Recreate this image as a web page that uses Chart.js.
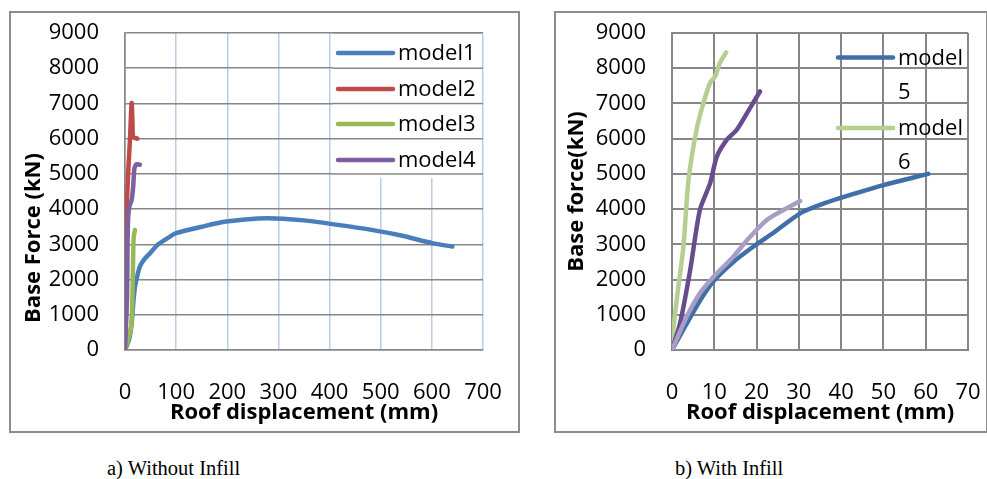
<!DOCTYPE html>
<html>
<head>
<meta charset="utf-8">
<script src="https://cdn.jsdelivr.net/npm/chart.js@4.4.1/dist/chart.umd.min.js"></script>
<style>
  body { margin: 0; background: #fff; width: 987px; height: 479px; overflow: hidden; position: relative; }
  .box { position: absolute; border: 2px solid #8c8c8c; box-sizing: border-box; }
  .box canvas { display: block; }
  .cap { position: absolute; top: 457px; font: 20.5px "Liberation Serif", "Times New Roman", serif; color: #000; white-space: nowrap; }
</style>
</head>
<body>
<div class="box" style="left:9px;top:11px;width:511px;height:422px"><canvas id="left" width="507" height="418"></canvas></div>
<div class="box" style="left:554px;top:11px;width:434px;height:422px"><canvas id="right" width="430" height="418"></canvas></div>
<div class="cap" style="left:107px">a) Without Infill</div>
<div class="cap" style="left:675px">b) With Infill</div>
<script>
// ---- a) without infill ----
const m1Disp  = [0, 8, 13, 16, 19.5, 24, 29, 38, 49, 65, 88, 100, 150, 198, 277, 350, 416, 482, 540, 601, 640];
const m1Force = [0, 300, 760, 1300, 1800, 2100, 2370, 2580, 2750, 3000, 3220, 3317, 3500, 3648, 3743, 3680, 3553, 3411, 3250, 3033, 2937];
const m2Disp  = [0, 1, 2, 4, 6.5, 10, 13, 14.5, 16, 24];
const m2Force = [0, 2000, 3500, 4300, 5117, 6063, 7012, 6500, 6050, 6000];
const m3Disp  = [0, 10, 13, 15, 16, 17, 19.5];
const m3Force = [0, 500, 850, 1800, 2700, 3200, 3410];
const m4Disp  = [0, 4, 5, 6, 8.5, 13, 16, 18, 19.5, 22, 29];
const m4Force = [0, 1500, 3000, 3700, 4070, 4260, 4640, 5117, 5210, 5270, 5260];

// ---- b) with infill ----
const m5Disp  = [0, 3, 6.6, 9.8, 14.5, 19.2, 24, 30.3, 35, 39.7, 50, 60.6];
const m5Force = [0, 650, 1400, 1950, 2500, 2930, 3330, 3880, 4120, 4310, 4680, 5000];
const m6Disp  = [0, 0.3, 1.5, 2.7, 3.9, 5.8, 7.4, 9, 10.2, 11.3, 12.8];
const m6Force = [0, 570, 1800, 2930, 4830, 6250, 7000, 7580, 7770, 8140, 8450];
const m7Disp  = [0, 1.9, 4.3, 6.6, 9, 10.6, 12.9, 15.3, 17.7, 20.8];
const m7Force = [0, 760, 2270, 3980, 4730, 5490, 5960, 6250, 6720, 7340];
const m8Disp  = [0, 3.5, 6.6, 10, 14.5, 18, 22.4, 26, 30.3];
const m8Force = [0, 950, 1610, 2100, 2650, 3150, 3690, 3950, 4230];

const leftXTicks = [0, 100, 200, 300, 400, 500, 600, 700];
const rightXTicks = [0, 10, 20, 30, 40, 50, 60, 70];
const forceTicks = [0, 1000, 2000, 3000, 4000, 5000, 6000, 7000, 8000, 9000];

const GRAY = '#878787';
const LBLUE = '#b9cde5';
const NONE = 'rgba(0,0,0,0)';
const FONT = '"Open Sans", "Liberation Sans", sans-serif';

const pts = (xs, ys) => xs.map((x, i) => ({ x: x, y: ys[i] }));

function series(label, xs, ys, color, order) {
  return {
    label: label, data: pts(xs, ys), borderColor: color, backgroundColor: color,
    showLine: true, pointRadius: 0, borderWidth: 4.5, tension: 0.25,
    borderCapStyle: 'round', borderJoinStyle: 'round', order: order
  };
}

// in-plot legend, drawn with the canvas
const boxLegend = {
  id: 'boxLegend',
  beforeDatasetsDraw(chart, args, o) {
    if (!o.fill) return;
    const a = chart.chartArea, ctx = chart.ctx, ys = chart.scales.y;
    const x0 = a.left + o.fill.dx, x1 = a.right - 1, y0 = a.top, y1 = a.top + o.fill.h;
    ctx.save();
    ctx.fillStyle = '#fff';
    ctx.fillRect(x0, y0, x1 - x0, y1 - y0);
    ctx.strokeStyle = GRAY; ctx.lineWidth = o.gridWidth;
    ys.ticks.forEach(t => {
      const y = ys.getPixelForValue(t.value);
      if (y >= y0 - 1 && y <= y1) { ctx.beginPath(); ctx.moveTo(x0, y); ctx.lineTo(x1, y); ctx.stroke(); }
    });
    ctx.restore();
  },
  afterDatasetsDraw(chart, args, o) {
    const a = chart.chartArea, ctx = chart.ctx;
    ctx.save();
    ctx.font = '22px ' + FONT; ctx.textBaseline = 'middle'; ctx.fillStyle = '#000';
    o.items.forEach(it => {
      const ds = chart.data.datasets[it.ds];
      ctx.strokeStyle = ds.borderColor; ctx.lineWidth = 4.5; ctx.lineCap = 'round';
      ctx.beginPath(); ctx.moveTo(a.left + o.x0, a.top + it.y); ctx.lineTo(a.left + o.x1, a.top + it.y); ctx.stroke();
      it.text.forEach((s, i) => ctx.fillText(s, a.left + o.tx, a.top + it.y + 1 + i * o.lh));
    });
    ctx.restore();
  }
};

// y title that sits lower than the axis middle (left chart)
const sideTitle = {
  id: 'sideTitle',
  afterDraw(chart, args, o) {
    if (!o.text) return;
    const ctx = chart.ctx;
    ctx.save();
    ctx.translate(o.x, o.y); ctx.rotate(-Math.PI / 2);
    ctx.font = 'bold 22px ' + FONT; ctx.fillStyle = '#000';
    ctx.textAlign = 'center'; ctx.textBaseline = 'middle';
    ctx.fillText(o.text, 0, 0);
    ctx.restore();
  }
};

function axes(xTicks, xGridColor, gridW, yW, yTitle) {
  return {
    x: {
      type: 'linear', min: xTicks[0], max: xTicks[xTicks.length - 1],
      afterBuildTicks: s => { s.ticks = xTicks.map(v => ({ value: v })); },
      afterFit: s => { s.height = 81; },
      grid: { color: xGridColor, lineWidth: gridW, drawTicks: true, tickLength: 30, tickColor: NONE },
      border: { color: GRAY, width: gridW },
      ticks: { padding: 0, color: '#000', font: { family: FONT, size: 22 }, maxRotation: 0,
               callback: v => String(v) },
      title: { display: true, text: 'Roof displacement (mm)', color: '#000',
               font: { family: FONT, size: 22, weight: 'bold' }, padding: { top: 0, bottom: 5 } }
    },
    y: {
      type: 'linear', min: 0, max: 9000,
      afterBuildTicks: s => { s.ticks = forceTicks.map(v => ({ value: v })); },
      afterFit: s => { s.width = yW; },
      grid: { color: GRAY, lineWidth: gridW, drawTicks: true, tickLength: 26, tickColor: NONE },
      border: { color: GRAY, width: gridW },
      ticks: { padding: 0, color: '#000', font: { family: FONT, size: 22 }, callback: v => String(v) },
      title: yTitle
    }
  };
}

new Chart(document.getElementById('left'), {
  type: 'scatter',
  data: { datasets: [
    series('model1', m1Disp, m1Force, '#4a7ebb', 3),
    series('model2', m2Disp, m2Force, '#be4b48', 2),
    series('model3', m3Disp, m3Force, '#98b954', 1),
    series('model4', m4Disp, m4Force, '#7d60a0', 0)
  ] },
  options: {
    responsive: false, animation: false,
    layout: { padding: { left: 0, right: 35, top: 20, bottom: 0 } },
    scales: axes(leftXTicks, c => c.index === 0 ? GRAY : LBLUE, 1.5, 114, { display: false }),
    plugins: {
      legend: { display: false }, tooltip: { enabled: false },
      boxLegend: {
        fill: { dx: 208, h: 145 }, gridWidth: 1.5, x0: 213, x1: 268, tx: 273, lh: 34,
        items: [
          { ds: 0, y: 20, text: ['model1'] },
          { ds: 1, y: 56, text: ['model2'] },
          { ds: 2, y: 91, text: ['model3'] },
          { ds: 3, y: 127, text: ['model4'] }
        ]
      },
      sideTitle: { text: 'Base Force (kN)', x: 23, y: 225 }
    }
  },
  plugins: [boxLegend, sideTitle]
});

new Chart(document.getElementById('right'), {
  type: 'scatter',
  data: { datasets: [
    series('model 5', m5Disp, m5Force, '#3f6ea8', 3),
    series('model 6', m6Disp, m6Force, '#b5cf90', 2),
    series('model 7', m7Disp, m7Force, '#684d8e', 1),
    series('model 8', m8Disp, m8Force, '#aa9dc5', 0)
  ] },
  options: {
    responsive: false, animation: false,
    layout: { padding: { left: 0, right: 18, top: 20, bottom: 0 } },
    scales: axes(rightXTicks, GRAY, 2, 116, {
      display: true, text: 'Base force(kN)', color: '#000',
      font: { family: FONT, size: 22, weight: 'bold' }, padding: { top: 8, bottom: 0 }
    }),
    plugins: {
      legend: { display: false }, tooltip: { enabled: false },
      boxLegend: {
        fill: null, x0: 166, x1: 221, tx: 226, lh: 34,
        items: [
          { ds: 0, y: 24.5, text: ['model', '5'] },
          { ds: 1, y: 95, text: ['model', '6'] }
        ]
      }
    }
  },
  plugins: [boxLegend]
});
</script>
</body>
</html>
